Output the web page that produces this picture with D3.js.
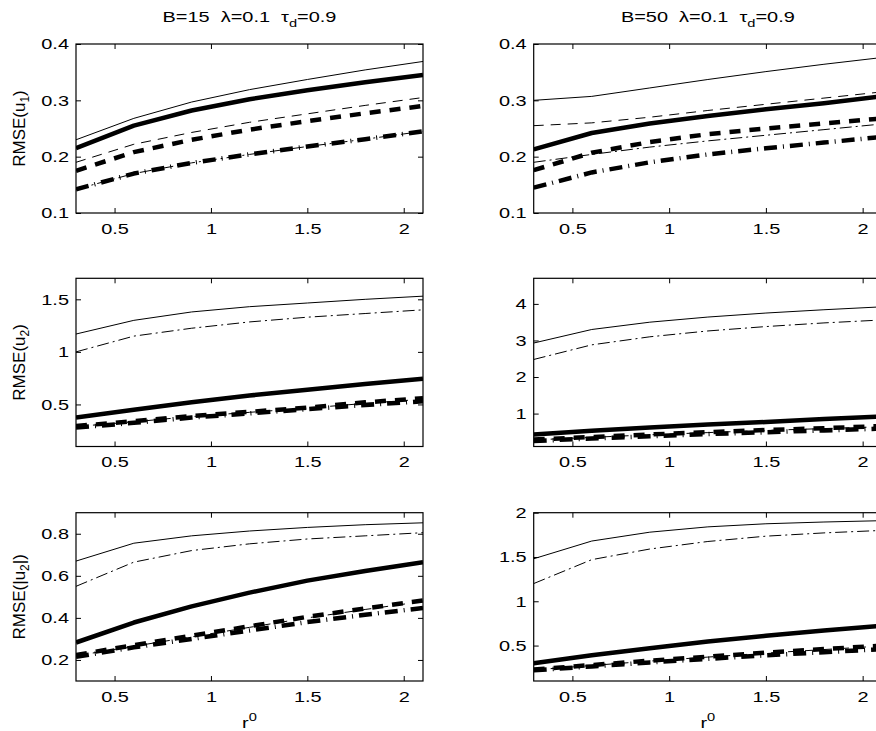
<!DOCTYPE html>
<html>
<head>
<meta charset="utf-8">
<script src="https://cdn.jsdelivr.net/npm/d3@7"></script>
<style>
body { margin: 0; background: #fff; }
text { font-family: "Liberation Sans", Arial, sans-serif; fill: #000; }
</style>
</head>
<body>
<div id="chart"></div>
<script>
var width = 876;
var height = 731;

// x values (r^0) and tick labels
var rValues = [0.3, 0.6, 0.9, 1.2, 1.5, 1.8, 2.1];
var xTicks = [0.5, 1, 1.5, 2];

// series order in every panel:
// thin solid, thin dashed, thin dash-dot, thick solid, thick dashed, thick dash-dot
var u1B15 = [
    [0.23, 0.268, 0.297, 0.319, 0.337, 0.354, 0.369],
    [0.19, 0.222, 0.243, 0.261, 0.276, 0.291, 0.305],
    [0.142, 0.17, 0.189, 0.204, 0.218, 0.231, 0.245],
    [0.215, 0.255, 0.282, 0.302, 0.318, 0.332, 0.345],
    [0.175, 0.208, 0.23, 0.248, 0.263, 0.277, 0.29],
    [0.142, 0.17, 0.189, 0.204, 0.218, 0.231, 0.245]
];
var u1B50 = [
    [0.300, 0.307, 0.322, 0.337, 0.351, 0.364, 0.376],
    [0.255, 0.26, 0.27, 0.282, 0.293, 0.304, 0.315],
    [0.19, 0.204, 0.217, 0.228, 0.238, 0.248, 0.258],
    [0.213, 0.242, 0.259, 0.272, 0.284, 0.295, 0.307],
    [0.176, 0.207, 0.226, 0.240, 0.250, 0.259, 0.268],
    [0.145, 0.172, 0.19, 0.204, 0.215, 0.225, 0.235]
];
var u2B15 = [
    [1.17, 1.30, 1.38, 1.43, 1.465, 1.50, 1.53],
    [0.29, 0.335, 0.385, 0.425, 0.465, 0.51, 0.55],
    [1.0, 1.15, 1.225, 1.285, 1.33, 1.365, 1.40],
    [0.375, 0.45, 0.52, 0.585, 0.64, 0.695, 0.745],
    [0.295, 0.34, 0.39, 0.43, 0.47, 0.52, 0.56],
    [0.28, 0.325, 0.375, 0.415, 0.455, 0.495, 0.53]
];
var u2B50 = [
    [2.93, 3.30, 3.50, 3.64, 3.75, 3.84, 3.92],
    [0.28, 0.35, 0.42, 0.48, 0.54, 0.59, 0.64],
    [2.48, 2.88, 3.10, 3.26, 3.38, 3.48, 3.56],
    [0.43, 0.53, 0.62, 0.70, 0.77, 0.85, 0.92],
    [0.29, 0.36, 0.43, 0.49, 0.55, 0.60, 0.66],
    [0.25, 0.32, 0.38, 0.44, 0.49, 0.54, 0.59]
];
var absU2B15 = [
    [0.67, 0.755, 0.79, 0.813, 0.83, 0.843, 0.852],
    [0.22, 0.265, 0.31, 0.355, 0.4, 0.44, 0.478],
    [0.55, 0.665, 0.72, 0.752, 0.775, 0.79, 0.805],
    [0.283, 0.378, 0.455, 0.52, 0.577, 0.623, 0.664],
    [0.224, 0.27, 0.315, 0.36, 0.405, 0.445, 0.483],
    [0.215, 0.26, 0.3, 0.34, 0.38, 0.415, 0.447]
];
var absU2B50 = [
    [1.48, 1.68, 1.78, 1.84, 1.875, 1.895, 1.91],
    [0.225, 0.275, 0.325, 0.37, 0.415, 0.455, 0.495],
    [1.2, 1.47, 1.59, 1.675, 1.735, 1.772, 1.80],
    [0.30, 0.39, 0.47, 0.545, 0.61, 0.67, 0.725],
    [0.23, 0.28, 0.33, 0.375, 0.42, 0.46, 0.50],
    [0.22, 0.265, 0.31, 0.35, 0.39, 0.425, 0.46]
];

var yTicksU1 = [0.1, 0.2, 0.3, 0.4];
var yTicksU2B15 = [0.5, 1, 1.5];
var yTicksU2B50 = [1, 2, 3, 4];
var yTicksAbsB15 = [0.2, 0.4, 0.6, 0.8];
var yTicksAbsB50 = [0.5, 1, 1.5, 2];

// line styles (matlab-ish)
var lineStyles = [
    { w: 1, dash: null },
    { w: 1, dash: "10,7" },
    { w: 1, dash: "12,4,2,4" },
    { w: 4.5, dash: null },
    { w: 4.5, dash: "11,9" },
    { w: 4.5, dash: "13,6,1,6" }
];

// horizontal text stretch of the original picture
var SX = 1.33;

var cols = [[76, 423], [533.7, 882]];
var rows = [[44, 213], [278.3, 446.5], [512.7, 681]];

var panels = [
    { data: u1B15, col: 0, row: 0, yDomain: [0.1, 0.4], yTicks: yTicksU1, label: ["RMSE(u", "1", ")"] },
    { data: u1B50, col: 1, row: 0, yDomain: [0.1, 0.4], yTicks: yTicksU1 },
    { data: u2B15, col: 0, row: 1, yDomain: [0.1, 1.7], yTicks: yTicksU2B15, label: ["RMSE(u", "2", ")"] },
    { data: u2B50, col: 1, row: 1, yDomain: [0.1, 4.7], yTicks: yTicksU2B50 },
    { data: absU2B15, col: 0, row: 2, yDomain: [0.1, 0.9], yTicks: yTicksAbsB15, label: ["RMSE(|u", "2", "|)"] },
    { data: absU2B50, col: 1, row: 2, yDomain: [0.1, 2], yTicks: yTicksAbsB50 }
];

var titles = [["B=15\u00a0\u00a0\u03bb=0.1\u00a0\u00a0\u03c4", "d", "=0.9"], ["B=50\u00a0\u00a0\u03bb=0.1\u00a0\u00a0\u03c4", "d", "=0.9"]];

var svg = d3.select("#chart").append("svg")
    .attr("width", width)
    .attr("height", height);

var fmt = function (d) { return String(d); };

panels.forEach(function (p, i) {
    var x0 = cols[p.col][0], x1 = cols[p.col][1];
    var y0 = rows[p.row][0], y1 = rows[p.row][1];

    var x = d3.scaleLinear().domain([0.3, 2.1]).range([0, x1 - x0]);
    var y = d3.scaleLinear().domain(p.yDomain).range([y1 - y0, 0]);

    var g = svg.append("g").attr("transform", "translate(" + x0 + "," + y0 + ")");

    g.append("clipPath").attr("id", "clip" + i)
        .append("rect").attr("width", x1 - x0).attr("height", y1 - y0);

    var line = d3.line()
        .x(function (d, j) { return x(rValues[j]); })
        .y(function (d) { return y(d); });

    g.append("g").attr("clip-path", "url(#clip" + i + ")")
        .selectAll("path").data(p.data).enter().append("path")
        .attr("d", line)
        .attr("fill", "none")
        .attr("stroke", "#000")
        .attr("stroke-width", function (d, j) { return lineStyles[j].w; })
        .attr("stroke-dasharray", function (d, j) { return lineStyles[j].dash; })
        .attr("stroke-linejoin", "round")
        .attr("stroke-linecap", "butt");

    // axes with inward ticks
    var bottom = g.append("g").attr("transform", "translate(0," + (y1 - y0) + ")")
        .call(d3.axisBottom(x).tickValues(xTicks).tickFormat(fmt).tickSizeInner(-5).tickSizeOuter(0).tickPadding(10));
    bottom.selectAll("text").attr("transform", "scale(" + SX + ",1)").style("font-size", "15px");

    var left = g.append("g")
        .call(d3.axisLeft(y).tickValues(p.yTicks).tickFormat(fmt).tickSizeInner(-5).tickSizeOuter(0).tickPadding(7));
    left.selectAll("text").attr("x", -7 / SX).attr("transform", "scale(" + SX + ",1)").style("font-size", "15px");

    g.append("g")
        .call(d3.axisTop(x).tickValues(xTicks).tickFormat("").tickSizeInner(-5).tickSizeOuter(0));
    g.append("g").attr("transform", "translate(" + (x1 - x0) + ",0)")
        .call(d3.axisRight(y).tickValues(p.yTicks).tickFormat("").tickSizeInner(-5).tickSizeOuter(0));

    g.selectAll(".domain").remove();
    g.selectAll(".tick line").attr("stroke", "#000");
    g.selectAll(".tick text").attr("fill", "#000").style("font-family", "'Liberation Sans', Arial, sans-serif");

    g.append("rect")
        .attr("width", x1 - x0).attr("height", y1 - y0)
        .attr("fill", "none").attr("stroke", "#000").attr("stroke-width", 1.2);

    if (p.label) {
        var t = svg.append("text")
            .attr("transform", "translate(25," + ((y0 + y1) / 2) + ") rotate(-90)")
            .attr("text-anchor", "middle")
            .style("font-size", "17px");
        t.append("tspan").text(p.label[0]);
        t.append("tspan").attr("dy", 4).style("font-size", "12px").text(p.label[1]);
        t.append("tspan").attr("dy", -4).text(p.label[2]);
    }

    if (p.row === 2) {
        var xl = svg.append("text")
            .attr("transform", "translate(" + ((x0 + x1) / 2) + ",728) scale(" + SX + ",1)")
            .attr("text-anchor", "middle")
            .style("font-size", "15px");
        xl.append("tspan").text("r");
        xl.append("tspan").attr("dy", -7).style("font-size", "11px").text("0");
    }

    if (p.row === 0) {
        var tt = svg.append("text")
            .attr("transform", "translate(" + ((x0 + x1) / 2) + ",22) scale(" + SX + ",1)")
            .attr("text-anchor", "middle")
            .style("font-size", "15px");
        tt.append("tspan").text(titles[p.col][0]);
        tt.append("tspan").attr("dy", 5).style("font-size", "11px").text(titles[p.col][1]);
        tt.append("tspan").attr("dy", -5).text(titles[p.col][2]);
    }
});
</script>
</body>
</html>
